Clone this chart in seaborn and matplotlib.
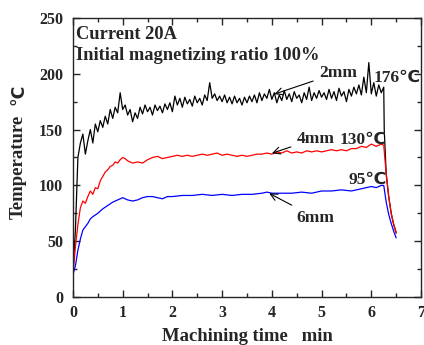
import matplotlib
matplotlib.use("Agg")
import matplotlib.pyplot as plt
import seaborn as sns
import pandas as pd
from matplotlib.ticker import MultipleLocator

# ---- data ----
t_2mm = [0.00, 0.05, 0.10, 0.15, 0.20, 0.25, 0.30, 0.35, 0.40, 0.45, 0.50, 0.55, 0.60, 0.65, 0.70,
         0.75, 0.80, 0.85, 0.90, 0.95, 1.00, 1.05, 1.10, 1.15, 1.20, 1.25, 1.30, 1.35, 1.40, 1.45,
         1.50, 1.55, 1.60, 1.65, 1.70, 1.75, 1.80, 1.85, 1.90, 1.95, 2.00, 2.05, 2.10, 2.15, 2.20,
         2.25, 2.30, 2.35, 2.40, 2.45, 2.50, 2.55, 2.60, 2.65, 2.70, 2.75, 2.80, 2.85, 2.90, 2.95,
         3.00, 3.05, 3.10, 3.15, 3.20, 3.25, 3.30, 3.35, 3.40, 3.45, 3.50, 3.55, 3.60, 3.65, 3.70,
         3.75, 3.80, 3.85, 3.90, 3.95, 4.00, 4.05, 4.10, 4.15, 4.20, 4.25, 4.30, 4.35, 4.40, 4.45,
         4.50, 4.55, 4.60, 4.65, 4.70, 4.75, 4.80, 4.85, 4.90, 4.95, 5.00, 5.05, 5.10, 5.15, 5.20,
         5.25, 5.30, 5.35, 5.40, 5.45, 5.50, 5.55, 5.60, 5.65, 5.70, 5.75, 5.80, 5.85, 5.90, 5.95,
         6.00, 6.05, 6.10, 6.15, 6.20, 6.25, 6.26, 6.30, 6.35, 6.40, 6.45, 6.50]
temp_2mm = [22, 60, 125, 138, 146, 128, 140, 150, 138, 155, 148, 158, 152, 162, 155,
            168, 160, 170, 165, 183, 168, 172, 163, 168, 157, 165, 160, 170, 164, 172,
            166, 170, 163, 172, 167, 171, 165, 173, 168, 174, 166, 180, 172, 178, 170,
            179, 173, 177, 171, 180, 174, 178, 172, 181, 176, 192, 178, 182, 176, 180,
            175, 181, 174, 179, 173, 180, 174, 178, 172, 179, 174, 180, 175, 181, 174,
            183, 176, 182, 178, 186, 177, 183, 174, 181, 176, 185, 177, 182, 175, 184,
            178, 181, 174, 183, 177, 188, 176, 183, 178, 185, 179, 183, 177, 186, 178,
            184, 176, 187, 180, 184, 175, 186, 180, 188, 182, 190, 181, 197, 183, 210,
            182, 192, 180, 190, 183, 188, 150, 110, 90, 75, 65, 58]

t_4mm = [0.00, 0.05, 0.10, 0.15, 0.20, 0.25, 0.30, 0.35, 0.40, 0.45, 0.50, 0.55, 0.60, 0.65, 0.70,
         0.75, 0.80, 0.85, 0.90, 0.95, 1.00, 1.05, 1.10, 1.20, 1.30, 1.40, 1.50, 1.60, 1.70, 1.80,
         1.90, 2.00, 2.10, 2.20, 2.30, 2.40, 2.50, 2.60, 2.70, 2.80, 2.90, 3.00, 3.10, 3.20, 3.30,
         3.40, 3.50, 3.60, 3.70, 3.80, 3.90, 4.00, 4.10, 4.20, 4.30, 4.40, 4.50, 4.60, 4.70, 4.80,
         4.90, 5.00, 5.10, 5.20, 5.30, 5.40, 5.50, 5.60, 5.70, 5.80, 5.90, 6.00, 6.10, 6.20, 6.25,
         6.30, 6.35, 6.40, 6.45, 6.50]
temp_4mm = [20, 45, 65, 80, 86, 84, 90, 95, 92, 98, 97, 104, 108, 112, 114,
            117, 118, 121, 120, 123, 125, 124, 122, 120, 121, 120, 123, 125, 126, 124,
            125, 126, 127, 126, 127, 126, 127, 128, 127, 128, 129, 127, 128, 127, 126,
            127, 126, 127, 128, 128, 129, 128, 130, 129, 131, 129, 130, 129, 131, 130,
            131, 130, 131, 132, 131, 132, 131, 133, 133, 135, 134, 137, 135, 137, 136,
            110, 90, 75, 65, 57]

t_6mm = [0.00, 0.05, 0.10, 0.15, 0.20, 0.25, 0.30, 0.35, 0.40, 0.50, 0.60, 0.70, 0.80, 0.90, 1.00,
         1.10, 1.20, 1.30, 1.40, 1.50, 1.60, 1.70, 1.80, 1.90, 2.00, 2.20, 2.40, 2.60, 2.80, 3.00,
         3.20, 3.40, 3.60, 3.80, 3.90, 4.00, 4.20, 4.40, 4.60, 4.80, 5.00, 5.20, 5.40, 5.60, 5.80,
         6.00, 6.10, 6.20, 6.25, 6.30, 6.35, 6.40, 6.45, 6.50]
temp_6mm = [20, 28, 42, 52, 60, 63, 66, 70, 72, 75, 79, 82, 85, 87, 89,
            87, 86, 87, 89, 90, 90, 89, 88, 90, 90, 91, 91, 92, 91, 92,
            91, 92, 92, 93, 94, 93, 93, 93, 94, 93, 95, 95, 96, 95, 97,
            99, 98, 100, 100, 85, 74, 66, 59, 53]

series_names = ["2mm", "4mm", "6mm"]
series_colors = ["black", "red", "blue"]
peak_labels = ["176\u2103", "130\u2103", "95\u2103"]
x_ticks = [0, 1, 2, 3, 4, 5, 6, 7]
y_ticks = [0, 50, 100, 150, 200, 250]

frames = []
for name, t, v in zip(series_names, [t_2mm, t_4mm, t_6mm], [temp_2mm, temp_4mm, temp_6mm]):
    frames.append(pd.DataFrame({"time": t, "temp": v, "depth": name}))
df = pd.concat(frames, ignore_index=True)

sns.set_style("ticks")
serif = ["Liberation Serif", "DejaVu Serif"]
plt.rcParams["font.family"] = serif
plt.rcParams["font.weight"] = "bold"

fig = plt.figure(figsize=(4.24, 3.45), dpi=100)
ax = fig.add_axes([0.172, 0.139, 0.821, 0.809])

sns.lineplot(data=df, x="time", y="temp", hue="depth", palette=dict(zip(series_names, series_colors)),
             estimator=None, sort=False, linewidth=0.9, legend=False, ax=ax)

ax.set_xlim(0, 7)
ax.set_ylim(0, 250)
ax.set_xticks(x_ticks)
ax.set_yticks(y_ticks)
ax.xaxis.set_minor_locator(MultipleLocator(0.5))
ax.yaxis.set_minor_locator(MultipleLocator(25))
ax.tick_params(which="both", direction="in", top=True, right=True, width=1.0, labelsize=11.5)
ax.tick_params(which="major", length=5)
ax.tick_params(which="minor", length=3)
ax.tick_params(axis="y", pad=7)
ax.tick_params(axis="x", pad=6)
for lab in ax.get_xticklabels() + ax.get_yticklabels():
    lab.set_fontweight("bold")
for s in ax.spines.values():
    s.set_linewidth(1.0)
    s.set_visible(True)

ax.set_xlabel("Machining time   min", fontsize=13.4, fontweight="bold", labelpad=5)
ax.set_ylabel("")
fig.text(0.043, 0.517, "Temperature", rotation=90, ha="center", va="center",
         fontsize=13.5, fontweight="bold")
fig.text(0.043, 0.728, "\u00b0C", rotation=90, ha="center", va="center",
         fontsize=12.5, fontweight="bold", family=["DejaVu Sans"])

ax.text(0.07, 235, "Current 20A", fontsize=13.3, fontweight="bold", va="center")
ax.text(0.07, 216, "Initial magnetizing ratio 100%", fontsize=13.3, fontweight="bold", va="center")

arrowp = dict(arrowstyle="->", color="black", lw=0.8)
ax.annotate("2mm", xy=(4.0, 181), xytext=(4.95, 201), fontsize=12.5, fontweight="bold",
            va="center", arrowprops=arrowp)
ax.annotate("4mm", xy=(3.95, 128), xytext=(4.5, 142), fontsize=12.5, fontweight="bold",
            va="center", arrowprops=arrowp)
ax.annotate("6mm", xy=(3.9, 94), xytext=(4.5, 71), fontsize=12.5, fontweight="bold",
            va="center", arrowprops=arrowp)

fam = ["Liberation Serif", "DejaVu Sans"]
ax.text(6.05, 196, peak_labels[0], fontsize=12.5, fontweight="bold", va="center", family=fam)
ax.text(5.37, 141, peak_labels[1], fontsize=12.5, fontweight="bold", va="center", family=fam)
ax.text(5.55, 105, peak_labels[2], fontsize=12.5, fontweight="bold", va="center", family=fam)

fig.savefig("out.png", dpi=100)
